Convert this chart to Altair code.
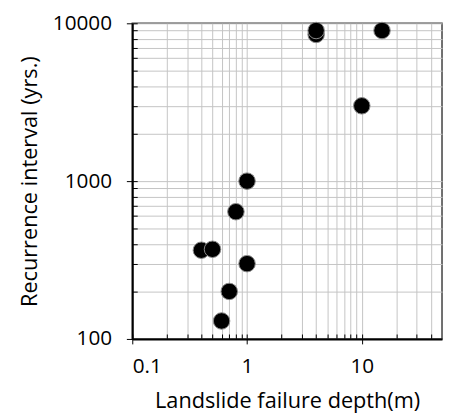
import altair as alt
import pandas as pd

depth = [4, 4, 15, 10, 1, 0.8, 0.4, 0.5, 1, 0.7, 0.6]
interval = [8500, 9000, 9000, 3000, 1000, 640, 365, 370, 300, 200, 130]

x_major = [0.1, 1, 10]
x_minor = [0.2, 0.3, 0.4, 0.5, 0.6, 0.7, 0.8, 0.9,
           2, 3, 4, 5, 6, 7, 8, 9, 20, 30, 40]
y_major = [100, 1000, 10000]
y_minor = [200, 300, 400, 500, 600, 700, 800, 900,
           2000, 3000, 4000, 5000, 6000, 7000, 8000, 9000]
x_labels = ["0.1", "1", "10"]
y_labels = ["100", "1000", "10000"]

df = pd.DataFrame({"depth": depth, "interval": interval})

FONT = "Open Sans"
LABEL_SIZE = 21
TITLE_SIZE = 22


def label_expr(vals, labs):
    parts = " : ".join(f"datum.value == {v} ? '{l}'" for v, l in zip(vals, labs))
    return parts + " : ''"


def major_test(vals):
    return " || ".join(f"datum.value == {v}" for v in vals)


xscale = alt.Scale(type="log", domain=[0.1, 50], nice=False)
yscale = alt.Scale(type="log", domain=[100, 10000], nice=False)

x_main = alt.Axis(
    orient="bottom",
    values=x_major + x_minor,
    grid=True, gridColor="#c4c4c4", gridWidth=1,
    labelExpr=label_expr(x_major, x_labels),
    tickSize=5, tickColor="black", tickWidth=1,
    tickOpacity={"condition": {"test": major_test(x_major), "value": 1}, "value": 0},
    labelPadding=12, labelFont=FONT, labelFontSize=LABEL_SIZE, labelColor="black",
    domainColor="black", domainWidth=2,
    title="Landslide failure depth(m)", titleFont=FONT, titleFontSize=TITLE_SIZE,
    titleFontWeight="normal", titleColor="black", titlePadding=15,
)
y_main = alt.Axis(
    orient="left",
    values=y_major + y_minor,
    grid=True, gridColor="#c4c4c4", gridWidth=1,
    labelExpr=label_expr(y_major, y_labels),
    tickSize=6, tickColor="black", tickWidth=1,
    tickOpacity={"condition": {"test": major_test(y_major), "value": 1}, "value": 0},
    labelPadding=15, labelFont=FONT, labelFontSize=LABEL_SIZE, labelColor="black",
    domainColor="black", domainWidth=2,
    title="Recurrence interval (yrs.)", titleFont=FONT, titleFontSize=TITLE_SIZE,
    titleFontWeight="normal", titleColor="black", titlePadding=11,
)

x_in = alt.Axis(orient="bottom", values=x_major + x_minor, offset=-5, tickSize=5,
                tickColor="black", tickWidth=1, domain=False, labels=False,
                grid=False, title=None)
y_in = alt.Axis(orient="left", values=y_major + y_minor, offset=-5, tickSize=5,
                tickColor="black", tickWidth=1, domain=False, labels=False,
                grid=False, title=None)

base = alt.Chart(df)

ticks_layer = base.mark_point(opacity=0).encode(
    x=alt.X("depth:Q", scale=xscale, axis=x_in),
    y=alt.Y("interval:Q", scale=yscale, axis=y_in),
)

points = base.mark_circle(size=280, color="black", opacity=1,
                          stroke="#8a8a8a", strokeWidth=1).encode(
    x=alt.X("depth:Q", scale=xscale, axis=x_main),
    y=alt.Y("interval:Q", scale=yscale, axis=y_main),
)

chart = alt.layer(points, ticks_layer).resolve_axis(
    x="independent", y="independent"
).properties(
    width=314, height=320,
    autosize=alt.AutoSizeParams(type="none"),
    padding={"left": 126, "top": 12.7, "right": 1, "bottom": 77},
).configure_view(stroke="#404040", strokeWidth=1.5)

chart.save("out.html", embed_options={"renderer": "svg", "actions": False})
